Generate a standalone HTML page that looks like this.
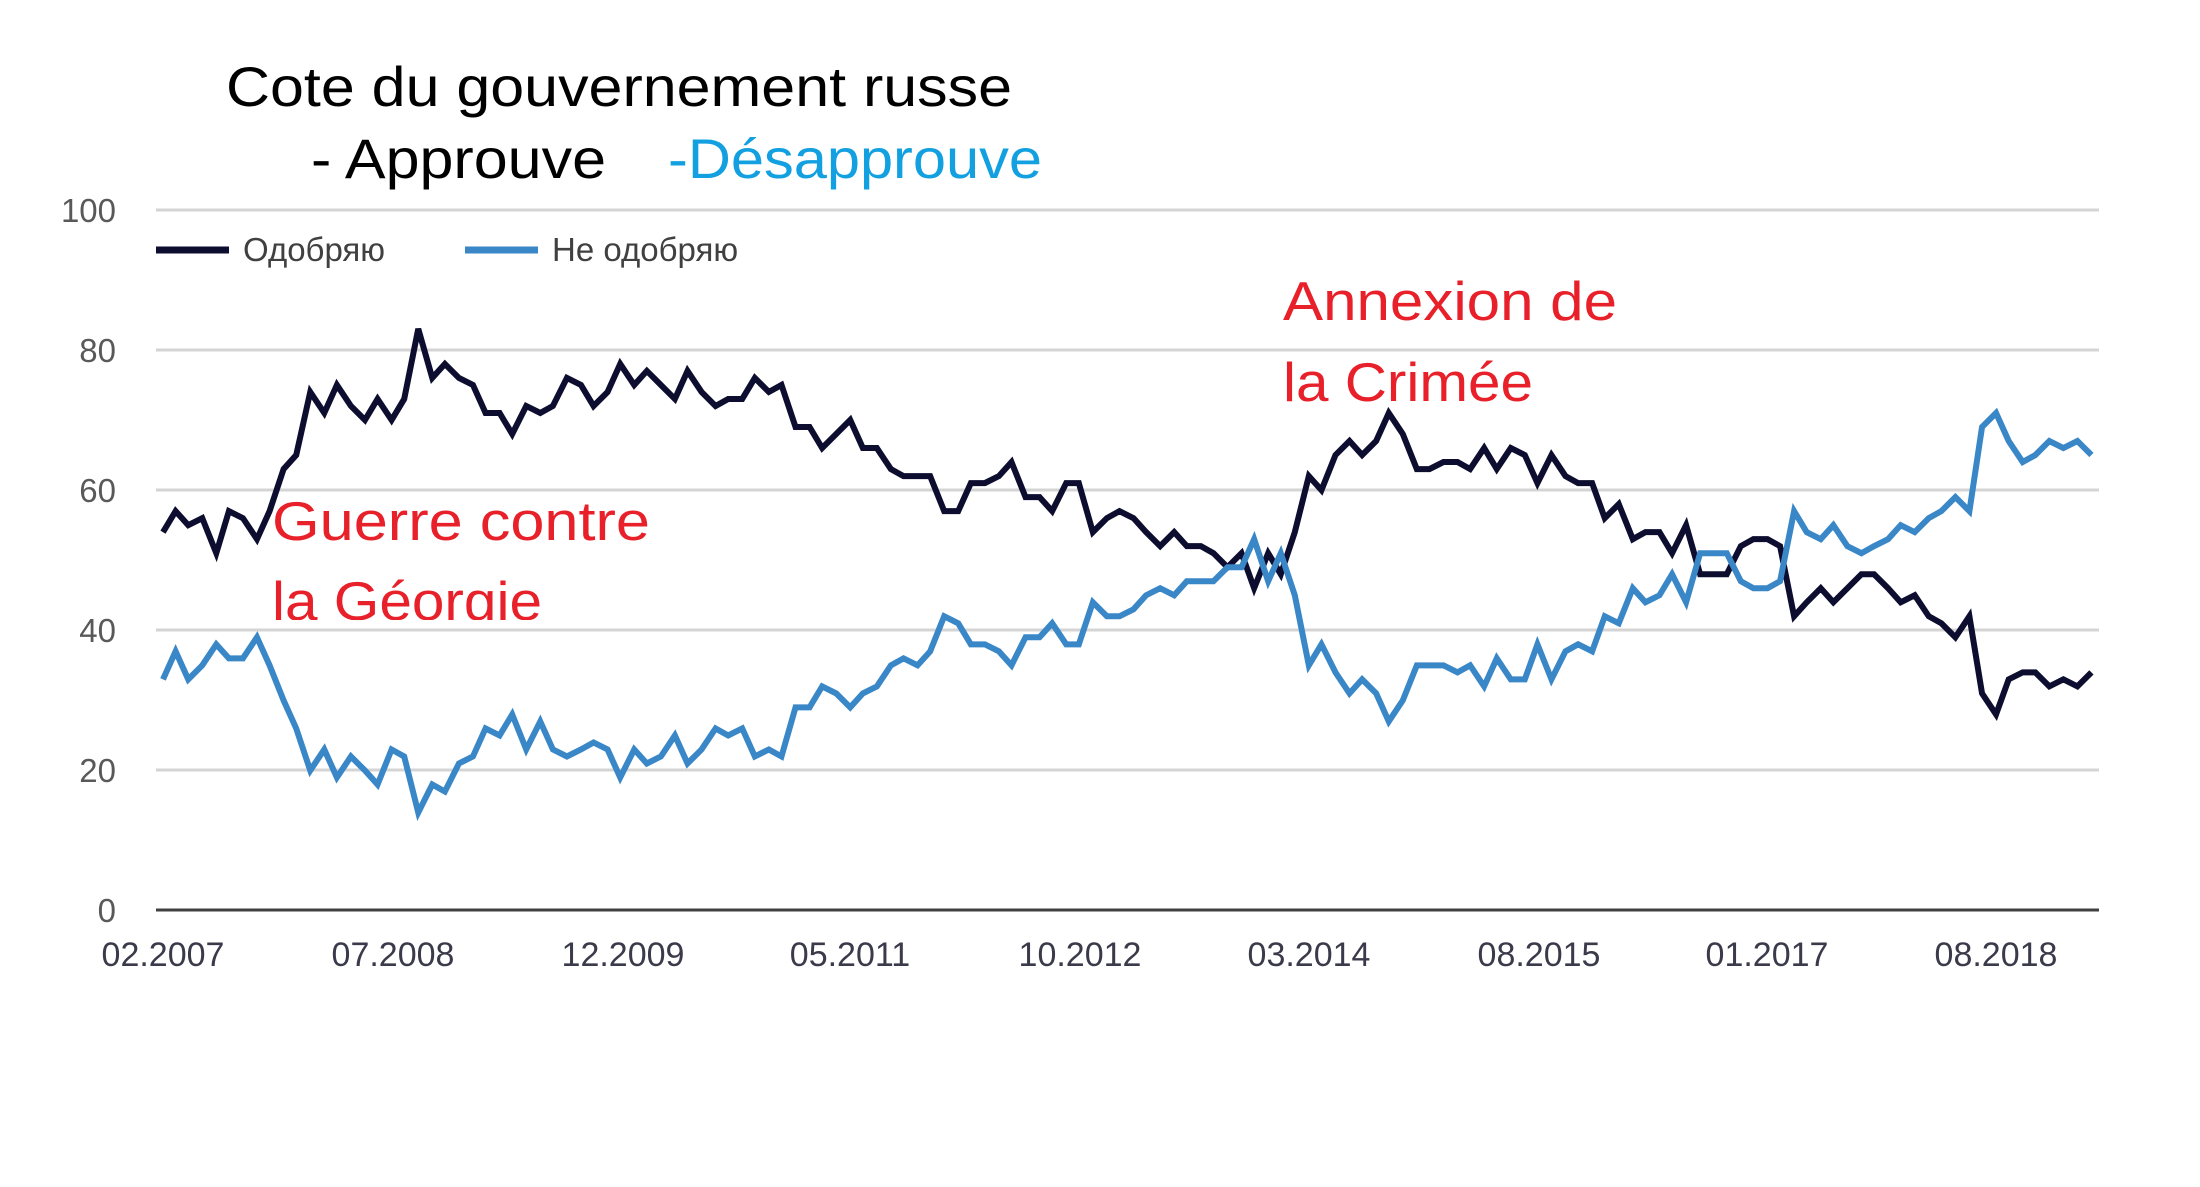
<!DOCTYPE html>
<html><head><meta charset="utf-8"><style>html,body{margin:0;padding:0;background:#fff}svg{display:block}</style></head>
<body>
<svg width="2200" height="1187" viewBox="0 0 2200 1187" xmlns="http://www.w3.org/2000/svg">
<rect width="2200" height="1187" fill="#fff"/>
<g stroke="#d4d4d4" stroke-width="3">
<line x1="156" y1="210" x2="2099" y2="210"/>
<line x1="156" y1="350" x2="2099" y2="350"/>
<line x1="156" y1="490" x2="2099" y2="490"/>
<line x1="156" y1="630" x2="2099" y2="630"/>
<line x1="156" y1="770" x2="2099" y2="770"/>
</g>
<line x1="156" y1="910" x2="2099" y2="910" stroke="#404040" stroke-width="3"/>
<g font-family="Liberation Sans, Arial, sans-serif" font-size="33" fill="#595959" text-anchor="end">
<text x="116" y="222">100</text><text x="116" y="362">80</text><text x="116" y="502">60</text>
<text x="116" y="642">40</text><text x="116" y="782">20</text><text x="116" y="922">0</text>
</g>
<g font-family="Liberation Sans, Arial, sans-serif" font-size="34" fill="#3a3a4a" text-anchor="middle">
<text x="163" y="966">02.2007</text><text x="393" y="966">07.2008</text><text x="623" y="966">12.2009</text>
<text x="850" y="966">05.2011</text><text x="1080" y="966">10.2012</text><text x="1309" y="966">03.2014</text>
<text x="1539" y="966">08.2015</text><text x="1767" y="966">01.2017</text><text x="1996" y="966">08.2018</text>
</g>
<line x1="156" y1="250" x2="229" y2="250" stroke="#0d0d30" stroke-width="7"/>
<text x="243" y="261" font-family="Liberation Sans, Arial, sans-serif" font-size="33" fill="#404040">Одобряю</text>
<line x1="465" y1="250" x2="538" y2="250" stroke="#3a87c8" stroke-width="7"/>
<text x="552" y="261" font-family="Liberation Sans, Arial, sans-serif" font-size="33" fill="#404040">Не одобряю</text>
<g transform="translate(1.7,910.7) scale(1.4025,-7.01)" fill="none" stroke-linejoin="miter">
<polyline vector-effect="non-scaling-stroke" stroke="#0d0d30" stroke-width="6" points="115,54 124,57 133,55 143,56 153,51 162,57 172,56 182,53 191,57 201,63 210,65 220,74 230,71 239,75 249,72 259,70 268,73 278,70 287,73 297,83 307,76 316,78 326,76 336,75 345,71 355,71 364,68 374,72 384,71 393,72 403,76 413,75 422,72 432,74 441,78 451,75 460,77 470,75 480,73 489,77 499,74 509,72 518,73 528,73 537,76 547,74 556,75 566,69 576,69 585,66 595,68 605,70 614,66 624,66 634,63 643,62 653,62 662,62 672,57 682,57 691,61 701,61 711,62 720,64 730,59 740,59 749,57 759,61 768,61 778,54 788,56 797,57 807,56 816,54 826,52 836,54 845,52 855,52 864,51 874,49 884,51 893,46 903,51 912,48 922,54 932,62 941,60 951,65 961,67 970,65 980,67 989,71 999,68 1009,63 1018,63 1028,64 1038,64 1047,63 1057,66 1066,63 1076,66 1086,65 1095,61 1105,65 1115,62 1124,61 1134,61 1143,56 1153,58 1163,53 1172,54 1182,54 1191,51 1201,55 1211,48 1220,48 1230,48 1240,52 1249,53 1259,53 1268,52 1278,42 1287,44 1297,46 1306,44 1316,46 1326,48 1335,48 1345,46 1354,44 1364,45 1374,42 1383,41 1393,39 1403,42 1412,31 1422,28 1431,33 1441,34 1450,34 1460,32 1470,33 1480,32 1490,34"/>
<polyline vector-effect="non-scaling-stroke" stroke="#3a87c8" stroke-width="6" points="115,33 124,37 133,33 143,35 153,38 162,36 172,36 182,39 191,35 201,30 210,26 220,20 230,23 239,19 249,22 259,20 268,18 278,23 287,22 297,14 307,18 316,17 326,21 336,22 345,26 355,25 364,28 374,23 384,27 393,23 403,22 413,23 422,24 432,23 441,19 451,23 460,21 470,22 480,25 489,21 499,23 509,26 518,25 528,26 537,22 547,23 556,22 566,29 576,29 585,32 595,31 605,29 614,31 624,32 634,35 643,36 653,35 662,37 672,42 682,41 691,38 701,38 711,37 720,35 730,39 740,39 749,41 759,38 768,38 778,44 788,42 797,42 807,43 816,45 826,46 836,45 845,47 855,47 864,47 874,49 884,49 893,53 903,47 912,51 922,45 932,35 941,38 951,34 961,31 970,33 980,31 989,27 999,30 1009,35 1018,35 1028,35 1038,34 1047,35 1057,32 1066,36 1076,33 1086,33 1095,38 1105,33 1115,37 1124,38 1134,37 1143,42 1153,41 1163,46 1172,44 1182,45 1191,48 1201,44 1211,51 1220,51 1230,51 1240,47 1249,46 1259,46 1268,47 1278,57 1287,54 1297,53 1306,55 1316,52 1326,51 1335,52 1345,53 1354,55 1364,54 1374,56 1383,57 1393,59 1403,57 1412,69 1422,71 1431,67 1441,64 1450,65 1460,67 1470,66 1480,67 1490,65"/>
</g>
<g font-family="Liberation Sans, Arial, sans-serif" font-size="56">
<text x="226" y="106" fill="#000" textLength="786" lengthAdjust="spacingAndGlyphs">Cote du gouvernement russe</text>
<text x="311" y="178" fill="#000" textLength="295" lengthAdjust="spacingAndGlyphs">- Approuve</text>
<text x="668" y="178" fill="#12a0e0" textLength="374" lengthAdjust="spacingAndGlyphs">-Désapprouve</text>
</g>
<clipPath id="cg"><rect x="0" y="0" width="2200" height="620"/></clipPath>
<g font-family="Liberation Sans, Arial, sans-serif" font-size="55" fill="#e8202a">
<text x="272" y="540" textLength="378" lengthAdjust="spacingAndGlyphs">Guerre contre</text>
<text x="272" y="620" textLength="270" lengthAdjust="spacingAndGlyphs" clip-path="url(#cg)">la Géorgie</text>
<text x="1283" y="320" textLength="334" lengthAdjust="spacingAndGlyphs">Annexion de</text>
<text x="1283" y="401" textLength="250" lengthAdjust="spacingAndGlyphs">la Crimée</text>
</g>
</svg>
</body></html>
